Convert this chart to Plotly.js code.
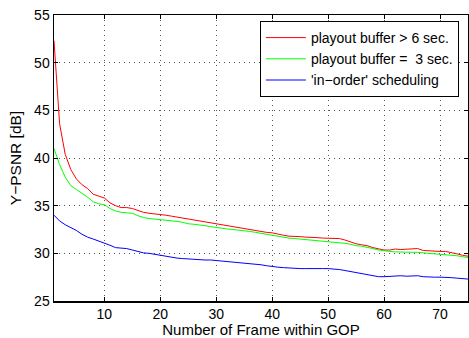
<!DOCTYPE html>
<html>
<head>
<meta charset="utf-8">
<script src="https://cdn.plot.ly/plotly-3.0.1.min.js"></script>
<style>html,body{margin:0;padding:0;background:#fff;}#chart{width:469px;height:338px;}</style>
</head>
<body>
<div id="chart"></div>
<script>
const frames = Array.from({length: 75}, (_, i) => i + 1);
const seriesNames = ["playout buffer > 6 sec.", "playout buffer =\u00a0\u00a03 sec.", "'in\u2212order' scheduling"];
const redValues = [52.3,43.6,40.4,38.8,37.8,37.2,36.8,36.2,36.0,35.8,35.3,35.0,34.8,34.8,34.7,34.5,34.3,34.2,34.15,34.1,
  34.0,33.9,33.8,33.65,33.55,33.5,33.4,33.3,33.2,33.1,33.0,32.9,32.8,32.7,32.6,32.5,32.4,32.3,32.2,32.15,
  32.0,31.9,31.8,31.8,31.75,31.7,31.7,31.65,31.6,31.6,31.55,31.55,31.4,31.2,31.0,30.9,30.8,30.6,30.45,30.35,
  30.35,30.45,30.4,30.45,30.45,30.5,30.3,30.25,30.2,30.2,30.2,30.1,29.95,29.8,29.7];
const greenValues = [41.0,39.3,38.0,37.1,36.7,36.3,35.9,35.4,35.2,35.1,34.7,34.45,34.3,34.25,34.2,33.95,33.75,33.65,33.6,33.55,
  33.5,33.45,33.35,33.25,33.1,33.05,33.0,32.9,32.8,32.7,32.6,32.55,32.5,32.45,32.4,32.3,32.2,32.1,32.0,31.85,
  31.75,31.7,31.6,31.55,31.5,31.45,31.4,31.35,31.25,31.2,31.2,31.15,31.05,30.95,30.8,30.75,30.65,30.5,30.35,30.25,
  30.2,30.15,30.15,30.1,30.1,30.1,30.05,30.0,29.95,29.95,29.9,29.85,29.75,29.65,29.55];
const blueValues = [34.0,33.4,33.0,32.7,32.4,32.0,31.7,31.5,31.3,31.05,30.85,30.6,30.55,30.5,30.35,30.2,30.05,30.0,29.9,29.8,
  29.65,29.55,29.5,29.45,29.4,29.38,29.35,29.3,29.3,29.25,29.2,29.1,29.05,29.0,28.95,28.9,28.85,28.8,28.7,28.6,
  28.55,28.5,28.45,28.42,28.4,28.4,28.38,28.4,28.4,28.4,28.38,28.3,28.2,28.1,28.0,27.9,27.75,27.65,27.55,27.55,
  27.6,27.65,27.65,27.6,27.65,27.65,27.55,27.5,27.5,27.5,27.5,27.45,27.4,27.35,27.3];
const xTickVals = [10,20,30,40,50,60,70];
const yTickVals = [25,30,35,40,45,50,55];
const xTitle = "Number of Frame within GOP";
const yTitle = "Y\u2212PSNR [dB]";

const colors = ["#ff0000", "#00ff00", "#0000ff"];
const allValues = [redValues, greenValues, blueValues];
const traces = allValues.map((v, i) => ({
  x: frames, y: v, type: "scatter", mode: "lines", name: seriesNames[i],
  line: {color: colors[i], width: 1}
}));

const font = {family: "Liberation Sans, Arial, sans-serif", color: "#000"};
const axisCommon = {
  showline: true, linecolor: "#000", linewidth: 1.5, mirror: "allticks",
  ticks: "inside", ticklen: 4, tickcolor: "#000", tickwidth: 1,
  showgrid: true, gridcolor: "#555", griddash: "1px,4px", gridwidth: 1,
  zeroline: false, tickfont: Object.assign({size: 14}, font)
};
const layout = {
  width: 469, height: 338,
  margin: {l: 54, r: 1, t: 15, b: 37},
  paper_bgcolor: "#fff", plot_bgcolor: "#fff",
  showlegend: true,
  legend: {
    x: 0.978, y: 0.979, xanchor: "right", yanchor: "top",
    bgcolor: "#fff", bordercolor: "#000", borderwidth: 1,
    font: Object.assign({size: 14}, font), tracegroupgap: 0,
    itemwidth: 40
  },
  xaxis: Object.assign({}, axisCommon, {
    range: [1, 75], tickvals: xTickVals,
    title: {text: xTitle, font: Object.assign({size: 15}, font), standoff: 5}
  }),
  yaxis: Object.assign({}, axisCommon, {
    range: [25, 55], tickvals: yTickVals,
    title: {text: yTitle, font: Object.assign({size: 15.5}, font), standoff: 8}
  })
};
Plotly.newPlot("chart", traces, layout, {displayModeBar: false, staticPlot: true});
</script>
</body>
</html>
